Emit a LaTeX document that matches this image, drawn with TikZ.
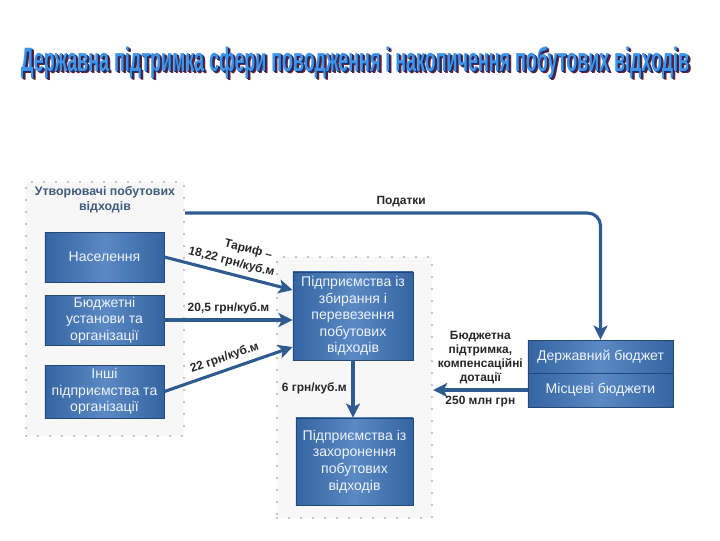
\documentclass[tikz,border=0pt]{standalone}
\usepackage{fontspec}
\setmainfont{Liberation Sans}
\usepackage{graphicx}
\usepackage{tikz}
\usetikzlibrary{arrows.meta}

\definecolor{boxblue}{HTML}{3465A2}
\definecolor{boxlight}{HTML}{5A89C3}
\definecolor{boxedge}{HTML}{22487A}
\definecolor{linkblue}{HTML}{2E5C90}
\definecolor{grptitle}{HTML}{3E5C7C}
\definecolor{titleblue}{HTML}{3C95EA}
\definecolor{titleshade}{HTML}{1A2A66}
\definecolor{titlered}{HTML}{6A2030}

\newcommand\dtitle{\resizebox{16.7cm}{0.62cm}{\bfseries Державна підтримка сфери поводження і накопичення побутових відходів}}

\begin{document}
\begin{tikzpicture}[x=0.025cm,y=-0.025cm,
  grp/.style={draw=gray!60, fill=black!3, line width=1.6pt, line cap=round, dash pattern=on 0pt off 3mm, inner sep=0pt},
  blok/.style={draw=boxedge, line width=0.6pt, left color=boxblue, right color=boxblue, middle color=boxlight,
    text=white!90!boxlight, font=\fontsize{10}{11.8}\selectfont, align=center, inner sep=0pt},
  link/.style={draw=linkblue, line width=2.2pt, -{Stealth[length=10pt,width=10pt,inset=2.5pt]}},
  lbl/.style={font=\bfseries\fontsize{8.5}{10}\selectfont, text=black!85, align=center}]
\useasboundingbox (0,0) rectangle (720,540);
{
\node[text=titlered, anchor=base, inner sep=0pt] (tred) at (357.5,73.5) {\dtitle};
\node[text=titleshade, anchor=base, inner sep=0pt] (tout) at (356.2,72.2) {\dtitle};
\node[text=titleblue, anchor=base, inner sep=0pt] (title) at (355,71) {\dtitle};

\node[grp, minimum width=3.95cm, minimum height=6.35cm] (grpL) at (105,309) {};
\node[grp, minimum width=3.875cm, minimum height=6.525cm] (grpM) at (354.5,387.5) {};
\node[font=\bfseries\fontsize{8.8}{10.5}\selectfont, text=grptitle, align=center] (grpLt) at (105,200) {Утворювачі побутових\\відходів};

\node[blok, minimum width=2.975cm, minimum height=1.25cm] (nas) at (104.5,257) {Населення};
\node[blok, minimum width=2.975cm, minimum height=1.25cm] (bud) at (104.5,320) {Бюджетні\\установи та\\організації};
\node[blok, minimum width=2.975cm, minimum height=1.325cm] (inshi) at (104.5,391.5) {Інші\\підприємства та\\організації};
\node[blok, minimum width=3cm, minimum height=2.2cm] (zbyr) at (353,316) {Підприємства із\\збирання і\\перевезення\\побутових\\відходів};
\node[blok, minimum width=2.925cm, minimum height=2.175cm] (zakh) at (354.5,461.5) {Підприємства із\\захоронення\\побутових\\відходів};
\node[blok, minimum width=3.625cm, minimum height=0.825cm] (derzh) at (600.5,356.5) {Державний бюджет};
\node[blok, minimum width=3.625cm, minimum height=0.85cm] (mis) at (600.5,390) {Місцеві бюджети};

\draw[link, rounded corners=9pt] (grpL.east |- 0,213) -| node[lbl, pos=0.26, above] (podatky) {Податки} (derzh.north);
\draw[link] (nas.east) -- node[lbl, font=\bfseries\fontsize{8.5}{11.5}\selectfont, sloped, above] (tarif) {\hspace*{2.2em}Тариф –\\18,22 грн/куб.м} (zbyr.west |- 0,290);
\draw[link] (bud.east) -- node[lbl, above] (l205) {20,5 грн/куб.м} (zbyr.west |- bud.east);
\draw[link] (inshi.east) -- node[lbl, sloped, above] (l22) {22 грн/куб.м} (zbyr.west |- 0,347);
\draw[link] (zbyr.south) -- node[lbl, pos=0.48, left] (l6) {6 грн/куб.м} (zbyr.south |- zakh.north);
\draw[link] (mis.west) -- node[lbl, above] (dot) {Бюджетна\\підтримка,\\компенсаційні\\дотації}
  node[lbl, below] (suma) {250 млн грн} (grpM.east |- mis.west);
}
\end{tikzpicture}
\end{document}
